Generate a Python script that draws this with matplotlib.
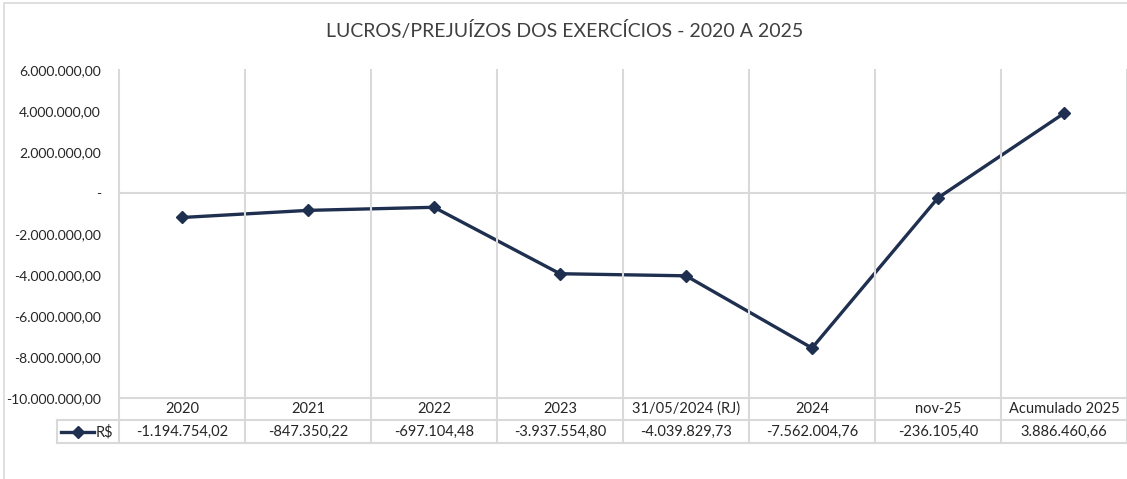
import matplotlib.pyplot as plt
from matplotlib.lines import Line2D
from matplotlib.patches import Rectangle

plt.rcParams['font.family'] = ['Lato', 'DejaVu Sans']

categories = ['2020', '2021', '2022', '2023', '31/05/2024 (RJ)', '2024', 'nov-25', 'Acumulado 2025']
values = [-1194754.02, -847350.22, -697104.48, -3937554.80, -4039829.73, -7562004.76, -236105.40, 3886460.66]
yticks = [-10e6, -8e6, -6e6, -4e6, -2e6, 0, 2e6, 4e6, 6e6]

W, H = 1127, 479
line_color = '#1F2F4F'
grid_color = '#D9D9D9'
text_color = '#262626'


def br(v):
    if v == 0:
        return '-'
    s = f'{v:,.2f}'
    return s.replace(',', 'X').replace('.', ',').replace('X', '.')


fig = plt.figure(figsize=(W / 100, H / 100), dpi=100)
fig.patches.append(Rectangle((4 / W, -0.1), 1.1, 1.1 - 3 / H, transform=fig.transFigure,
                             fill=False, edgecolor=grid_color, lw=1.2))

left, right, top, bottom = 119, 1127, 70, 398
ax = fig.add_axes([left / W, 1 - bottom / H, (right - left) / W, (bottom - top) / H])
for s in ax.spines.values():
    s.set_visible(False)

n = len(categories)
xs = list(range(n))
ax.set_xlim(-0.5, n - 0.5)
ax.set_ylim(-10e6, 6e6)
ax.set_yticks(yticks)
ax.set_yticklabels([br(v) for v in yticks], fontsize=10, color=text_color)
ax.tick_params(axis='y', length=0, pad=13)
ax.set_xticks([])

# vertical gridlines at category boundaries, extended through the data table
rows_bottom = 443
for i in range(n + 1):
    xp = left + i * (right - left) / n
    fig.lines.append(Line2D([xp / W, xp / W], [1 - top / H, 1 - rows_bottom / H],
                            transform=fig.transFigure, color=grid_color, lw=1.5))
ax.axhline(0, color=grid_color, lw=1.5, zorder=1)

ax.plot(xs, values, color=line_color, lw=2.4, marker='D', markersize=6, zorder=3)

# data table
for y0, x0 in [(398, left), (420, 57), (443, 57)]:
    fig.lines.append(Line2D([x0 / W, right / W], [1 - y0 / H, 1 - y0 / H],
                            transform=fig.transFigure, color=grid_color, lw=1.5))
fig.lines.append(Line2D([57 / W, 57 / W], [1 - 420 / H, 1 - 443 / H],
                        transform=fig.transFigure, color=grid_color, lw=1.5))
for i, (c, v) in enumerate(zip(categories, values)):
    xc = (left + (i + 0.5) * (right - left) / n) / W
    fig.text(xc, 1 - 409 / H, c, ha='center', va='center', fontsize=10.5, color=text_color)
    fig.text(xc, 1 - 432 / H, br(v), ha='center', va='center', fontsize=10.5, color=text_color)

fig.lines.append(Line2D([61 / W, 94 / W], [1 - 432 / H] * 2, transform=fig.transFigure,
                        color=line_color, lw=2.4))
fig.lines.append(Line2D([77.5 / W], [1 - 432 / H], transform=fig.transFigure,
                        color=line_color, marker='D', markersize=6))
fig.text(96 / W, 1 - 432 / H, 'R$', ha='left', va='center', fontsize=10.5, color=text_color)

fig.text(565 / W, 1 - 30 / H, 'LUCROS/PREJUÍZOS DOS EXERCÍCIOS - 2020 A 2025',
         ha='center', va='center', fontsize=14, color='#404040')

fig.savefig('out.png', dpi=100)
